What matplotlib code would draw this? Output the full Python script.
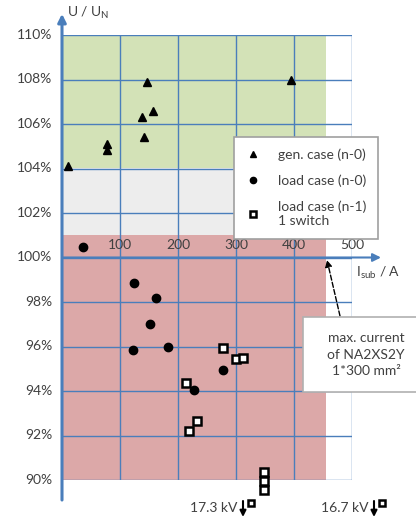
import matplotlib
matplotlib.use("Agg")
import matplotlib.pyplot as plt
from matplotlib.patches import Rectangle

plt.rcParams['font.family'] = ['Lato', 'DejaVu Sans']

# data
gen_x = [10, 78, 78, 146, 138, 157, 142, 395]
gen_y = [104.1, 105.1, 104.85, 107.9, 106.3, 106.6, 105.4, 108.0]
load0_x = [36, 124, 162, 152, 122, 182, 228, 277]
load0_y = [100.45, 98.85, 98.2, 97.0, 95.85, 96.0, 94.05, 94.95]
load1_x = [214, 233, 219, 278, 300, 312, 348, 348, 348]
load1_y = [94.35, 92.65, 92.2, 95.95, 95.45, 95.5, 90.35, 89.95, 89.55]
x_ticks = [100, 200, 300, 400, 500]
y_ticks = [90, 92, 94, 96, 98, 100, 102, 104, 106, 108, 110]
i_max = 455

W, H = 416, 518
fig = plt.figure(figsize=(W/100, H/100), dpi=100)
x0px, x500px = 62, 352
y110px, y90px = 35, 480
ax = fig.add_axes([x0px/W, 1 - y90px/H, (x500px - x0px)/W, (y90px - y110px)/H])
ax.set_xlim(0, 500)
ax.set_ylim(90, 110)
for s in ax.spines.values():
    s.set_visible(False)
ax.set_xticks([]); ax.set_yticks([])
ax.patch.set_alpha(0)

def fx(px):
    return (px - x0px) / (x500px - x0px) * 500
def fy(py):
    return 110 - (py - y110px) / (y90px - y110px) * 20

green = '#d3e2b7'
red = '#dca8a8'
grey = '#ededed'
blue = '#4a7ebb'

ax.add_patch(Rectangle((0, 104), i_max, 6, facecolor=green, edgecolor='none', zorder=0))
ax.add_patch(Rectangle((0, 101), i_max, 3, facecolor=grey, edgecolor='none', zorder=0))
ax.add_patch(Rectangle((0, 90), i_max, 11, facecolor=red, edgecolor='none', zorder=0))

for xv in x_ticks:
    ax.plot([xv, xv], [90, 110], color=blue, lw=1.0, zorder=1)
for yv in y_ticks:
    ax.plot([0, 500], [yv, yv], color=blue, lw=1.0, zorder=1)

# axes with arrows
ax.annotate('', xy=(0, 110.95), xytext=(0, 89.1), xycoords='data',
            arrowprops=dict(arrowstyle='-|>', color=blue, lw=2.2, mutation_scale=12, shrinkA=0, shrinkB=0),
            annotation_clip=False, zorder=3)
ax.annotate('', xy=(550, 100), xytext=(0, 100), xycoords='data',
            arrowprops=dict(arrowstyle='-|>', color=blue, lw=1.5, mutation_scale=12, shrinkA=0, shrinkB=0),
            annotation_clip=False, zorder=3)

tc = '#404040'
for yv in y_ticks:
    ax.text(-17, yv, f'{yv}%', ha='right', va='center', fontsize=10, color=tc)
for xv in x_ticks:
    ax.text(xv, 100.55, f'{xv}', ha='center', va='center', fontsize=10, color=tc)

ax.text(8, 111.0, 'U / U$_\\mathregular{N}$', ha='left', va='center', fontsize=10, color=tc)
ax.text(507, 99.3, 'I$_\\mathregular{sub}$ / A', ha='left', va='center', fontsize=10, color=tc)

ax.plot(gen_x, gen_y, '^', color='black', ms=6, clip_on=False, zorder=5, label='gen. case (n-0)')
ax.plot(load0_x, load0_y, 'o', color='black', ms=6, clip_on=False, zorder=5, label='load case (n-0)')
ax.plot(load1_x, load1_y, 's', mfc='white', mec='black', mew=1.8, ms=5.5, clip_on=False, zorder=5,
        label='load case (n-1)\n1 switch')

leg = ax.legend(loc='upper left', bbox_to_anchor=((227 - x0px)/(x500px - x0px), 1 - (130 - y110px)/(y90px - y110px)),
                frameon=True, fancybox=False, edgecolor='#a0a0a0', framealpha=1, fontsize=10, labelcolor=tc,
                handlelength=1.0, handletextpad=1.3, borderpad=0.85, labelspacing=0.95, markerscale=0.75)
leg.get_frame().set_linewidth(1.2)
leg.set_zorder(10)

# max current annotation
ax.annotate('', xy=(fx(327), fy(260)), xytext=(fx(340), fy(316)), xycoords='data',
            arrowprops=dict(arrowstyle='-|>', color='black', lw=1.0, ls='--', mutation_scale=10,
                            shrinkA=0, shrinkB=0),
            annotation_clip=False, zorder=6)
ax.add_patch(Rectangle((fx(303), fy(392)), fx(425) - fx(303), fy(317) - fy(392), facecolor='white',
                       edgecolor='#b0b0b0', lw=1.2, clip_on=False, zorder=7))
ax.text(fx(366), fy(355), 'max. current\nof NA2XS2Y\n1*300 mm²', ha='center', va='center', fontsize=10,
        color=tc, linespacing=1.45, zorder=8)

# off-chart markers
for txt, xt, xa, xs in [('17.3 kV', 237, 243, 251), ('16.7 kV', 369, 374, 382)]:
    ax.text(fx(xt), fy(508), txt, ha='right', va='center', fontsize=10, color=tc)
    ax.annotate('', xy=(fx(xa), fy(517)), xytext=(fx(xa), fy(501)), xycoords='data',
                arrowprops=dict(arrowstyle='-|>', color='black', lw=1.5, mutation_scale=9,
                                shrinkA=0, shrinkB=0),
                annotation_clip=False)
    ax.plot([fx(xs)], [fy(503)], 's', mfc='white', mec='black', mew=1.8, ms=5, clip_on=False)

fig.savefig('out.png', dpi=100)
